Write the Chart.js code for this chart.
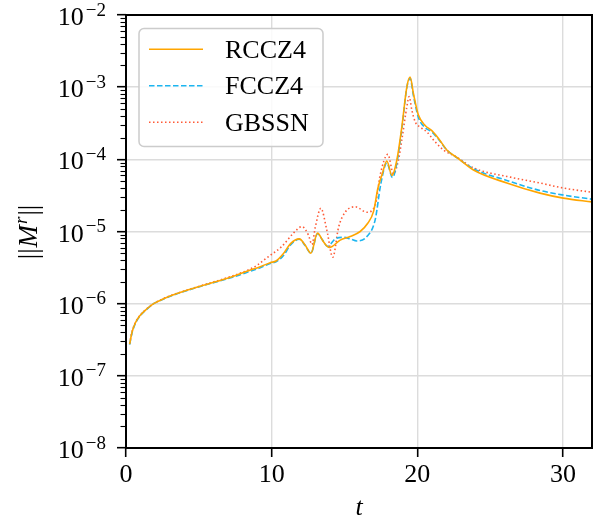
<!DOCTYPE html>
<html>
<head>
<meta charset="utf-8">
<script src="https://cdn.jsdelivr.net/npm/chart.js@4/dist/chart.umd.min.js"></script>
<style>
  html, body { margin: 0; padding: 0; background: #fff; }
  #wrap { width: 603px; height: 524px; }
</style>
</head>
<body>
<div id="wrap"><canvas id="myChart" width="603" height="524"></canvas></div>
<script>
// values: time t and ||M^r|| for each run
var tRccz4 = [0.25, 0.41, 0.64, 0.98, 1.44, 1.9, 2.58, 3.5, 5.1, 7.39, 8.5, 9.22, 9.9, 10.3, 10.8, 11.3, 11.9, 12.3, 12.7, 13.15, 13.56, 13.97, 14.71, 15.39, 16.08, 16.6, 17.0, 17.3, 17.6, 17.91, 18.26, 18.6, 18.94, 19.29, 19.51, 19.74, 20.08, 20.54, 21.0, 21.46, 22.03, 22.83, 23.86, 26.15, 28.43, 30.03, 32];
var rccz4 = [2.75e-7, 4.0e-7, 5.4e-7, 6.9e-7, 8.5e-7, 1.0e-6, 1.17e-6, 1.38e-6, 1.74e-6, 2.4e-6, 2.9e-6, 3.25e-6, 3.7e-6, 3.9e-6, 4.9e-6, 6.8e-6, 7.9e-6, 6.5e-6, 5.0e-6, 9.5e-6, 7.2e-6, 6.0e-6, 7.6e-6, 8.5e-6, 1.0e-5, 1.3e-5, 1.9e-5, 4.0e-5, 6.3e-5, 9.5e-5, 6.0e-5, 9.8e-5, 2.8e-4, 1.02e-3, 1.38e-3, 8.1e-4, 4.1e-4, 2.95e-4, 2.5e-4, 1.95e-4, 1.35e-4, 1.02e-4, 7.1e-5, 4.7e-5, 3.4e-5, 2.9e-5, 2.57e-5];

var tFccz4 = [0.25, 0.41, 0.64, 0.98, 1.44, 1.9, 2.58, 3.5, 5.1, 7.39, 8.5, 9.22, 9.9, 10.3, 10.8, 11.3, 11.9, 12.3, 12.7, 13.15, 13.5, 13.84, 14.37, 14.94, 15.4, 15.85, 16.54, 17.11, 17.5, 17.91, 18.3, 18.6, 18.94, 19.29, 19.51, 19.74, 20.08, 20.54, 21.0, 21.46, 22.03, 22.83, 23.86, 26.15, 28.43, 30.03, 32];
var fccz4 = [2.7e-7, 3.9e-7, 5.3e-7, 6.8e-7, 8.4e-7, 1.0e-6, 1.16e-6, 1.37e-6, 1.73e-6, 2.35e-6, 2.8e-6, 3.15e-6, 3.6e-6, 3.8e-6, 4.6e-6, 6.5e-6, 7.8e-6, 6.4e-6, 5.0e-6, 9.3e-6, 7.6e-6, 6.2e-6, 7.9e-6, 8.3e-6, 7.9e-6, 7.4e-6, 8.5e-6, 1.45e-5, 4.6e-5, 8.9e-5, 5.6e-5, 8.9e-5, 2.6e-4, 1.0e-3, 1.32e-3, 7.6e-4, 3.8e-4, 2.75e-4, 2.4e-4, 1.9e-4, 1.35e-4, 1.02e-4, 7.4e-5, 5.1e-5, 3.7e-5, 3.2e-5, 2.8e-5];

var tGbssn = [0.25, 0.41, 0.64, 0.98, 1.44, 1.9, 2.58, 3.5, 5.1, 7.39, 8.5, 8.99, 9.79, 10.7, 11.5, 12.08, 12.53, 12.77, 13.0, 13.38, 13.79, 14.2, 14.6, 15.05, 15.74, 16.54, 17.11, 17.45, 17.98, 18.37, 18.71, 18.94, 19.29, 19.44, 19.63, 19.86, 20.2, 20.66, 21.11, 21.8, 22.72, 23.86, 26.15, 28.43, 30.03, 32];
var gbssn = [2.8e-7, 4.05e-7, 5.45e-7, 6.95e-7, 8.55e-7, 1.0e-6, 1.18e-6, 1.39e-6, 1.76e-6, 2.45e-6, 3.0e-6, 3.4e-6, 4.5e-6, 6.2e-6, 9.5e-6, 1.17e-5, 8.9e-6, 6.6e-6, 1.15e-5, 2.1e-5, 1.05e-5, 4.4e-6, 1.15e-5, 1.85e-5, 2.2e-5, 1.85e-5, 2.3e-5, 6.0e-5, 1.17e-4, 6.3e-5, 9.8e-5, 1.86e-4, 5.4e-4, 7.4e-4, 4.8e-4, 3.3e-4, 2.8e-4, 2.4e-4, 1.86e-4, 1.35e-4, 1.07e-4, 7.6e-5, 5.8e-5, 4.7e-5, 4.0e-5, 3.5e-5];

var xTicks = [0, 10, 20, 30];
var yTicks = [1e-8, 1e-7, 1e-6, 1e-5, 1e-4, 1e-3, 1e-2];
var minorSteps = [2, 3, 4, 5, 6, 7, 8, 9];

var serif = '"Liberation Serif", "DejaVu Serif", serif';

function pts(xs, ys) {
  return xs.map(function (x, i) { return {x: x, y: ys[i]}; });
}

// frame, minor ticks, y labels, axis titles and legend
var decor = {
  id: 'decor',
  afterDraw: function (chart) {
    var ctx = chart.ctx, a = chart.chartArea, ys = chart.scales.y;
    ctx.save();

    // minor ticks on y
    ctx.strokeStyle = '#000';
    ctx.lineWidth = 1.1;
    for (var i = 0; i < yTicks.length - 1; i++) {
      minorSteps.forEach(function (m) {
        var py = Math.round(ys.getPixelForValue(yTicks[i] * m)) + 0.5;
        ctx.beginPath();
        ctx.moveTo(a.left - 5.5, py);
        ctx.lineTo(a.left, py);
        ctx.stroke();
      });
    }

    // y tick labels 10^n
    ctx.fillStyle = '#000';
    ctx.textBaseline = 'alphabetic';
    ctx.textAlign = 'right';
    yTicks.forEach(function (v) {
      var py = ys.getPixelForValue(v);
      var ex = '\u2212' + Math.abs(Math.round(Math.log10(v)));
      ctx.font = '19px ' + serif;
      ctx.fillText(ex, 106, py + 0.5);
      var w = ctx.measureText(ex).width;
      ctx.font = '26px ' + serif;
      ctx.fillText('10', 106 - w - 2, py + 10);
    });

    // frame
    ctx.lineWidth = 2;
    ctx.strokeRect(a.left, a.top, a.right - a.left, a.bottom - a.top);

    // x title
    ctx.textAlign = 'center';
    ctx.font = 'italic 26px ' + serif;
    ctx.fillText('t', (a.left + a.right) / 2, 515);

    // y title ||M^r||
    ctx.save();
    ctx.translate(37, (a.top + a.bottom) / 2);
    ctx.rotate(-Math.PI / 2);
    ctx.textAlign = 'left';
    var parts = [
      {s: '||', f: '27px ' + serif, dy: 0},
      {s: 'M', f: 'italic 27px ' + serif, dy: 0},
      {s: 'r', f: 'italic 19px ' + serif, dy: -10},
      {s: '||', f: '27px ' + serif, dy: 0}
    ];
    var total = 0;
    parts.forEach(function (p) { ctx.font = p.f; p.w = ctx.measureText(p.s).width; total += p.w + 1; });
    var x = -total / 2;
    parts.forEach(function (p) { ctx.font = p.f; ctx.fillText(p.s, x, p.dy); x += p.w + 1; });
    ctx.restore();

    // legend box
    var bx = 139, by = 28.5, bw = 184, bh = 118, r = 5;
    ctx.beginPath();
    ctx.moveTo(bx + r, by);
    ctx.arcTo(bx + bw, by, bx + bw, by + bh, r);
    ctx.arcTo(bx + bw, by + bh, bx, by + bh, r);
    ctx.arcTo(bx, by + bh, bx, by, r);
    ctx.arcTo(bx, by, bx + bw, by, r);
    ctx.closePath();
    ctx.fillStyle = 'rgba(255,255,255,0.85)';
    ctx.fill();
    ctx.strokeStyle = '#cccccc';
    ctx.lineWidth = 1.5;
    ctx.stroke();

    chart.data.datasets.forEach(function (ds, k) {
      var ly = 49.3 + k * 36.5;
      ctx.beginPath();
      ctx.setLineDash(ds.borderDash || []);
      ctx.strokeStyle = ds.borderColor;
      ctx.lineWidth = ds.borderWidth;
      ctx.moveTo(149, ly);
      ctx.lineTo(203, ly);
      ctx.stroke();
      ctx.setLineDash([]);
      ctx.fillStyle = '#000';
      ctx.textAlign = 'left';
      ctx.font = '26px ' + serif;
      ctx.fillText(ds.label, 225, ly + 8.5);
    });

    ctx.restore();
  }
};

var ctx = document.getElementById('myChart').getContext('2d');
var myChart = new Chart(ctx, {
  type: 'line',
  data: {
    datasets: [{
      label: 'RCCZ4',
      data: pts(tRccz4, rccz4),
      borderColor: '#ffa500',
      borderWidth: 1.6,
      pointRadius: 0,
      cubicInterpolationMode: 'monotone',
      fill: false
    }, {
      label: 'FCCZ4',
      data: pts(tFccz4, fccz4),
      borderColor: '#1cb5f0',
      borderWidth: 1.6,
      borderDash: [5.5, 2.5],
      pointRadius: 0,
      cubicInterpolationMode: 'monotone',
      fill: false
    }, {
      label: 'GBSSN',
      data: pts(tGbssn, gbssn),
      borderColor: '#ff5a36',
      borderWidth: 1.6,
      borderDash: [1.5, 2.5],
      pointRadius: 0,
      cubicInterpolationMode: 'monotone',
      fill: false
    }]
  },
  options: {
    responsive: false,
    animation: false,
    layout: { padding: { left: 0, right: 11, top: 15, bottom: 0 } },
    plugins: {
      legend: { display: false },
      tooltip: { enabled: false }
    },
    scales: {
      x: {
        type: 'linear',
        min: 0,
        max: 32,
        afterBuildTicks: function (s) { s.ticks = xTicks.map(function (v) { return {value: v}; }); },
        afterFit: function (s) { s.height = 76; },
        border: { display: false },
        grid: { color: '#dcdcdc', lineWidth: 1.4, tickColor: '#000', tickWidth: 1.6, tickLength: 9 },
        ticks: { color: '#000', font: { family: serif, size: 26 }, padding: 3, maxRotation: 0 }
      },
      y: {
        type: 'logarithmic',
        min: 1e-8,
        max: 1e-2,
        afterBuildTicks: function (s) { s.ticks = yTicks.map(function (v) { return {value: v, major: true}; }); },
        afterFit: function (s) { s.width = 126; },
        border: { display: false },
        grid: { color: '#dcdcdc', lineWidth: 1.4, tickColor: '#000', tickWidth: 1.6, tickLength: 9 },
        ticks: { display: false }
      }
    }
  },
  plugins: [decor]
});
</script>
</body>
</html>
